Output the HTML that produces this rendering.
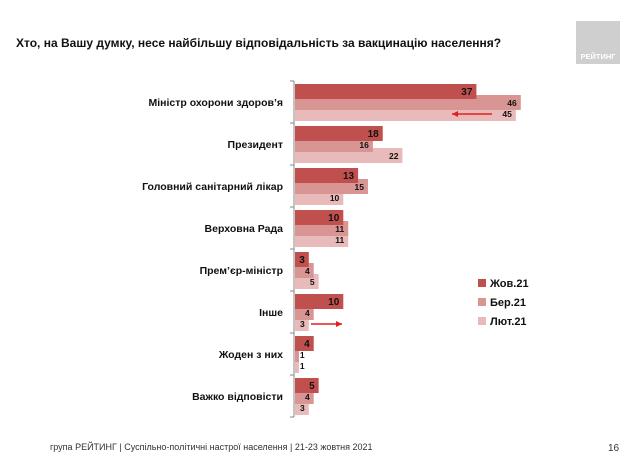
<!DOCTYPE html>
<html><head><meta charset="utf-8">
<style>
body{margin:0;background:#fff;width:638px;height:456px;overflow:hidden;font-family:"Liberation Sans",sans-serif;}
svg{display:block}
</style></head>
<body>
<svg id="c" width="638" height="456" xmlns="http://www.w3.org/2000/svg">
<text x="16" y="47" font-size="12" font-weight="bold" fill="#111">Хто, на Вашу думку, несе найбільшу відповідальність за вакцинацію населення?</text>
<rect x="576" y="21" width="44" height="43" fill="#cfcfcf"/>
<text x="598" y="59" font-size="7.5" font-weight="bold" fill="#fff" text-anchor="middle">РЕЙТИНГ</text>
<text x="50" y="450" font-size="9" fill="#333">група РЕЙТИНГ | Суспільно-політичні настрої населення  | 21-23 жовтня 2021</text>
<text x="608" y="451" font-size="10" fill="#333">16</text>
<g id="plot"></g>
</svg>
<script>
const categories=["Міністр охорони здоров’я","Президент","Головний санітарний лікар","Верховна Рада","Прем’єр-міністр","Інше","Жоден з них","Важко відповісти"];
const seriesNames=["Жов.21","Бер.21","Лют.21"];
const oct21=[37,18,13,10,3,10,4,5];
const mar21=[46,16,15,11,4,4,1,4];
const feb21=[45,22,10,11,5,3,1,3];
const series=[oct21,mar21,feb21];
const colors=["#c0504d","#d99594","#e8baba"];
const NS="http://www.w3.org/2000/svg";
const g=document.getElementById('plot');
const x0=294,scale=4.93,top0=81,groupH=42;
const xs=v=>x0+v*scale;
const yg=i=>top0+i*groupH;
function el(t,a){const e=document.createElementNS(NS,t);for(const k in a)e.setAttribute(k,a[k]);g.appendChild(e);return e;}
const ax=el('line',{x1:x0,y1:top0,x2:x0,y2:top0+groupH*categories.length,stroke:'#888','stroke-width':1});


for(let i=0;i<=categories.length;i++){
  const t=el('line',{x1:x0-4,y1:yg(i),x2:x0,y2:yg(i),stroke:'#888'});
  
  
}
categories.forEach((c,i)=>{
  const lb=el('text',{x:283,y:yg(i)+25,'font-size':10.5,'font-weight':'bold',fill:'#111','text-anchor':'end'});
  lb.textContent=c;
  
  
  for(let s=2;s>=0;s--){
    const v=series[s][i];
    const y=yg(i)+3+s*11;
    const r=el('rect',{x:x0+1,y:y,width:Math.max(xs(v)-x0-1,0),height:15,fill:colors[s]});
    
    
  }
  for(let s=0;s<3;s++){
    const v=series[s][i];
    const y=yg(i)+3+s*11;
    const inside=xs(v)-x0>9;
    const tx=el('text',{x:inside?xs(v)-4:xs(v)+1,y:y+11,'font-size':s==0?10:8.5,'font-weight':'bold',fill:'#111','text-anchor':inside?'end':'start'});
    tx.textContent=v;
    
    
  }
});
function arrow(x1,x2,y,name){
  const l=el('line',{x1:x1,y1:y,x2:x2,y2:y,stroke:'#e02020','stroke-width':1.5});
  
  
  const d=x2>x1?-6:6;
  const p=el('polygon',{points:`${x2},${y} ${x2+d},${y-3} ${x2+d},${y+3}`,fill:'#e02020'});
  
  
}
arrow(492,452,114,'decrease-arrow');
arrow(311,342,324,'increase-arrow');
seriesNames.forEach((n,s)=>{
  const y=279+s*19;
  const r=el('rect',{x:478,y:y,width:8,height:8,fill:colors[s]});
  
  
  const t=el('text',{x:490,y:y+8,'font-size':11,'font-weight':'bold',fill:'#111'});
  t.textContent=n;
  
  
});
</script>
</body></html>
